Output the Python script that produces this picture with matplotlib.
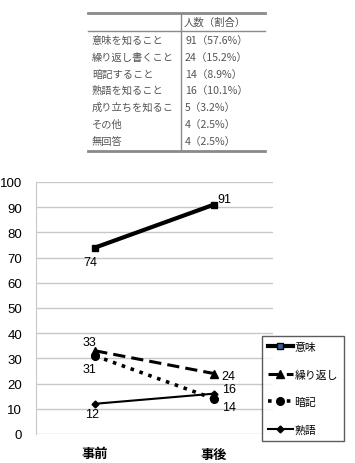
import matplotlib
matplotlib.use('Agg')
import matplotlib.pyplot as plt
from matplotlib.lines import Line2D

# table data
row_labels = ["意味を知ること", "繰り返し書くこと", "暗記すること", "熟語を知ること",
              "成り立ちを知るこ", "その他", "無回答"]
row_values = ["91（57.6%）", "24（15.2%）", "14（8.9%）", "16（10.1%）",
              "5（3.2%）", "4（2.5%）", "4（2.5%）"]
header = "人数（割合）"

# chart data
categories = ["事前", "事後"]
series_names = ["意味", "繰り返し", "暗記", "熟語"]
imi = [74, 91]
kurikaeshi = [33, 24]
anki = [31, 14]
jukugo = [12, 16]

W, H = 355, 464
fig = plt.figure(figsize=(W / 100, H / 100), dpi=100)

def fx(px):
    return px / W

def fy(py):
    return 1 - py / H

# ---- table ----
tcol = "#555555"
lcol = "#8a8a8a"
jp = ["Noto Sans CJK JP", "DejaVu Sans"]
fig.add_artist(Line2D([fx(88), fx(265)], [fy(14), fy(14)], color=lcol, lw=2))
fig.add_artist(Line2D([fx(88), fx(265)], [fy(32), fy(32)], color=lcol, lw=1))
fig.add_artist(Line2D([fx(88), fx(265)], [fy(152), fy(152)], color=lcol, lw=2))
fig.add_artist(Line2D([fx(181), fx(181)], [fy(14), fy(152)], color=lcol, lw=1))
fig.text(fx(184), fy(23), header, family=jp, fontsize=7.5, color=tcol, va="center")
row_y = [41, 58, 75, 91, 108, 125, 142]
for lab, val, y in zip(row_labels, row_values, row_y):
    fig.text(fx(92), fy(y), lab, family=jp, fontsize=7.4, color=tcol, va="center")
    fig.text(fx(185), fy(y), val, family=jp, fontsize=7.6, color=tcol, va="center")

# ---- line chart ----
ax = fig.add_axes([fx(36), fy(435), fx(273) - fx(36), (435 - 183) / H])
x = range(len(categories))
styles = [
    dict(ls="-", lw=3.0, marker="s", ms=4.5),
    dict(ls=(0, (4, 2)), lw=2.2, marker="^", ms=5.5),
    dict(ls=(0, (1, 1.6)), lw=2.6, marker="o", ms=5.5),
    dict(ls="-", lw=1.5, marker="D", ms=3.5),
]
all_series = [imi, kurikaeshi, anki, jukugo]
for vals, st in zip(all_series, styles):
    ax.plot(x, vals, color="black", mfc="black", mec="black", zorder=3, **st)

# data labels (offsets in px)
offsets = {
    0: [(-5, -14), (11, 6)],
    1: [(-6, 9), (15, -2)],
    2: [(-6, -13), (15, -8)],
    3: [(-3, -10), (15, 5)],
}
for i, vals in enumerate(all_series):
    for j, v in enumerate(vals):
        dx, dy = offsets[i][j]
        ax.annotate(str(v), (j, v), xytext=(dx * 0.72, dy * 0.72),
                    textcoords="offset points", ha="center", va="center",
                    fontsize=9, family="Liberation Sans", zorder=4)

ax.set_xlim(-0.5, 1.5)
ax.set_ylim(0, 100)
ax.set_yticks(range(0, 101, 10))
ax.set_xticks(list(x))
ax.set_xticklabels(categories, family=jp, fontsize=9.5, fontweight="bold")
for lbl in ax.get_yticklabels():
    lbl.set_family("Liberation Sans")
    lbl.set_fontsize(9.5)
ax.tick_params(length=0)
ax.tick_params(axis="y", pad=10)
ax.tick_params(axis="x", pad=9)
ax.grid(axis="y", color="#c8c8c8", lw=1)
ax.set_axisbelow(True)
for s in ["top", "right", "bottom"]:
    ax.spines[s].set_visible(False)
ax.spines["left"].set_color("#c8c8c8")

handles = []
for st, name in zip(styles, series_names):
    fc = "#3a5f95" if name == "意味" else "black"
    handles.append(Line2D([], [], color="black", mfc=fc, mec="black", **st))
leg = fig.legend(handles, series_names, loc="upper left",
                 bbox_to_anchor=(fx(262), fy(337)),
                 prop={"family": jp, "size": 7.8},
                 frameon=True, fancybox=False, edgecolor="#333333", handlelength=2.3,
                 handletextpad=0.15, labelspacing=1.6, borderpad=0.55, borderaxespad=0)
leg.get_frame().set_linewidth(1)

fig.savefig("out.png", dpi=100)
